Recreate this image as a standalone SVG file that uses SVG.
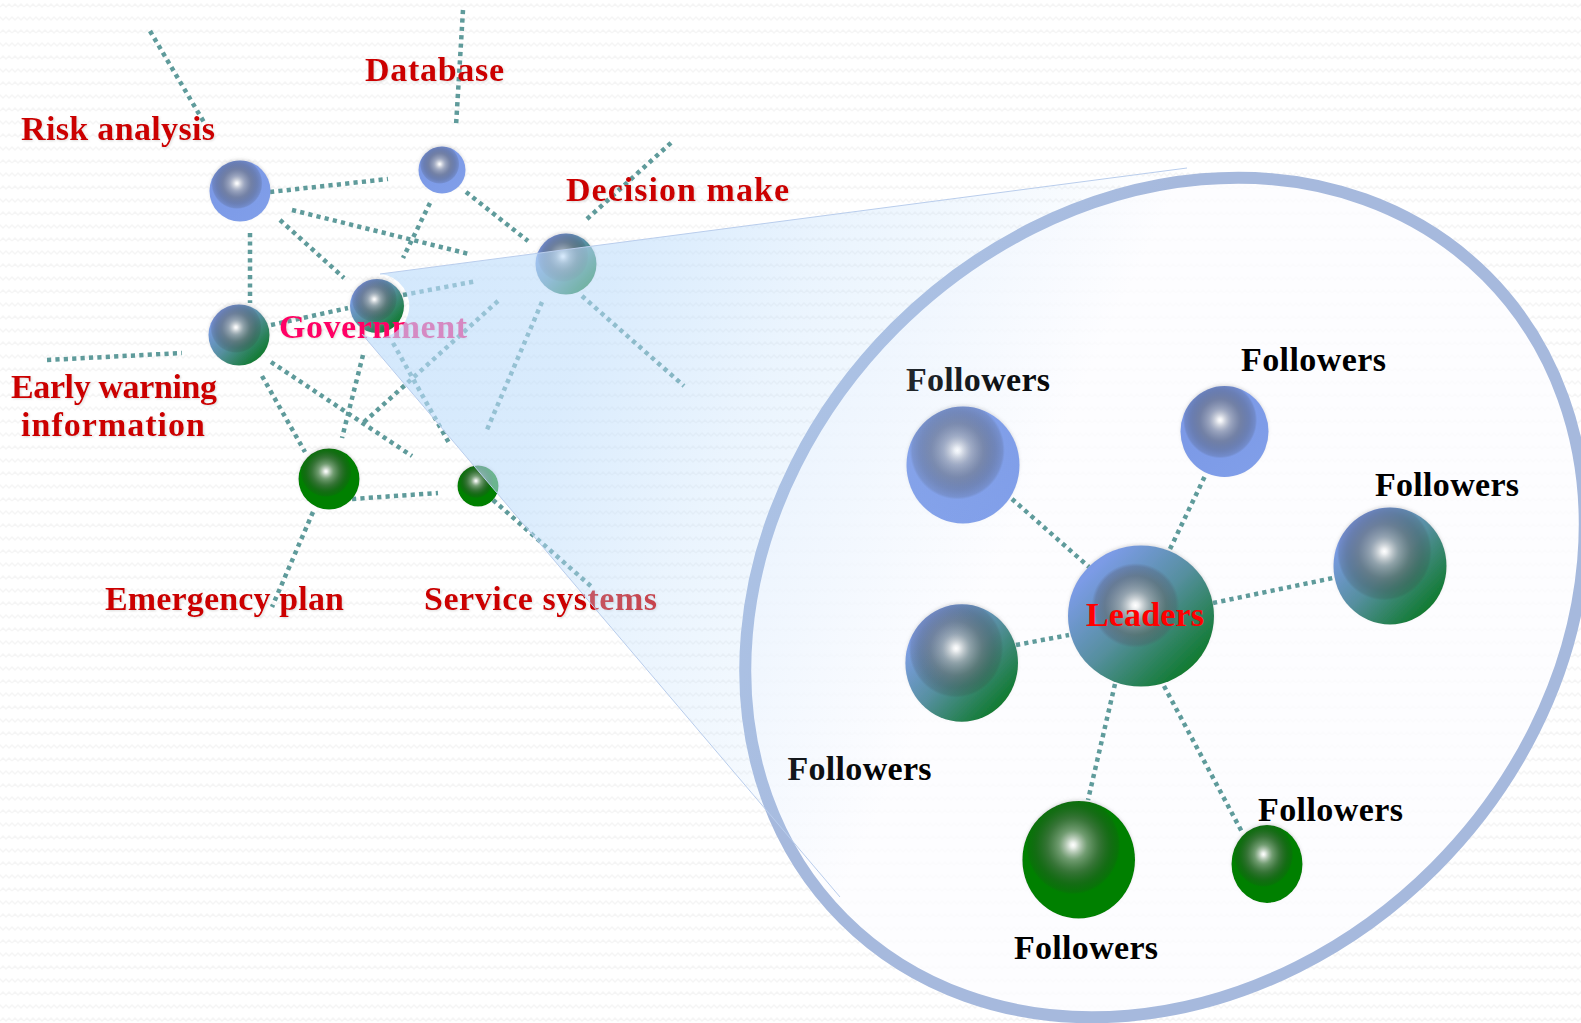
<svg xmlns="http://www.w3.org/2000/svg" width="1581" height="1023" viewBox="0 0 1581 1023">
<style>
.blue{fill:url(#gBlue)}
.green{fill:#008000}
.mix{fill:url(#gMix)}
.shine{fill:url(#gShine)}
.ball{filter:url(#fBall)}
.con{fill:none;stroke:#5f9b9b;stroke-width:4.5;stroke-dasharray:4.2 4.2}
text{font-family:"Liberation Serif","Times New Roman",serif;font-weight:bold;font-size:34px}
.lab{fill:#cc0000;filter:url(#fText)}
.fol{fill:#000}
.edge{fill:none;stroke:#b9cdec;stroke-width:1}
</style>
<defs>
<pattern id="pBg" width="12" height="26" patternUnits="userSpaceOnUse">
<path d="M0 7L3 4L6 7L9 4L12 7M-3 20L0 17L3 20L6 17L9 20L12 17L15 20" fill="none" stroke="#f5f5f5" stroke-width="1.5"/>
</pattern>
<linearGradient id="gBlue" x1="0.2" y1="0.1" x2="0.85" y2="0.9">
<stop offset="0" stop-color="#7a98e6"/><stop offset="1" stop-color="#809ee9"/>
</linearGradient>
<linearGradient id="gMix" x1="0.14" y1="0.14" x2="0.86" y2="0.86">
<stop offset="0.05" stop-color="#7b9be6"/><stop offset="0.5" stop-color="#568f9f"/><stop offset="1" stop-color="#0f7a2e"/>
</linearGradient>
<radialGradient id="gShine" cx="0.45" cy="0.375" r="0.42">
<stop offset="0" stop-color="#fff" stop-opacity="1"/>
<stop offset="0.06" stop-color="#f5f5f5" stop-opacity="0.95"/>
<stop offset="0.3" stop-color="#aaa" stop-opacity="0.66"/>
<stop offset="0.55" stop-color="#6a6a6a" stop-opacity="0.52"/>
<stop offset="0.8" stop-color="#404040" stop-opacity="0.3"/>
<stop offset="0.95" stop-color="#333" stop-opacity="0.16"/>
<stop offset="1" stop-color="#333" stop-opacity="0"/>
</radialGradient>
<radialGradient id="gShineL" cx="0.462" cy="0.425" r="0.3">
<stop offset="0" stop-color="#fff" stop-opacity="1"/>
<stop offset="0.08" stop-color="#f5f5f5" stop-opacity="0.95"/>
<stop offset="0.35" stop-color="#aaa" stop-opacity="0.68"/>
<stop offset="0.7" stop-color="#606060" stop-opacity="0.5"/>
<stop offset="0.92" stop-color="#505060" stop-opacity="0.3"/>
<stop offset="1" stop-color="#505060" stop-opacity="0"/>
</radialGradient>
<linearGradient id="gBeam" gradientUnits="userSpaceOnUse" x1="380" y1="300" x2="987" y2="589">
<stop offset="0" stop-color="#bcdcfb" stop-opacity="0.65"/>
<stop offset="0.3" stop-color="#bcdcfb" stop-opacity="0.56"/>
<stop offset="0.56" stop-color="#bcdcfb" stop-opacity="0.31"/>
<stop offset="0.756" stop-color="#bcdcfb" stop-opacity="0.18"/>
<stop offset="0.92" stop-color="#bcdcfb" stop-opacity="0.06"/>
<stop offset="1" stop-color="#bcdcfb" stop-opacity="0"/>
</linearGradient>
<filter id="fBall" x="-20%" y="-20%" width="140%" height="140%">
<feDropShadow dx="0" dy="-1.5" stdDeviation="1.5" flood-color="#888" flood-opacity="0.25"/>
</filter>
<filter id="fText" x="-5%" y="-15%" width="110%" height="130%">
<feDropShadow dx="1" dy="1" stdDeviation="0.8" flood-color="#888" flood-opacity="0.3"/>
</filter>
</defs>
<rect id="background" width="1581" height="1023" fill="#fff"/>
<rect width="1581" height="1023" fill="url(#pBg)"/>
<ellipse id="zoom-ring" cx="1165" cy="597.5" rx="454.6" ry="381.7" transform="rotate(-45 1165 597.5)" fill="#fcfdff" fill-opacity="0.8" stroke="#a6b9dd" stroke-width="12"/>
<g id="connectors" class="con">
<path d="M150 31L205 124"/>
<path d="M463 10L456 126"/>
<path d="M270 192L388 179"/>
<path d="M292 210L469 254"/>
<path d="M280 220L344 278"/>
<path d="M250 233L250 303"/>
<path d="M430 203L403 258"/>
<path d="M466 192L528 241"/>
<path d="M587 219L673 141"/>
<path d="M403 295L477 281"/>
<path d="M271 325L348 308"/>
<path d="M582 296L684 386"/>
<path d="M542 302L486 432"/>
<path d="M498 301L363 423"/>
<path d="M393 343L449 443"/>
<path d="M363 355L342 438"/>
<path d="M271 362L412 456"/>
<path d="M262 376L305 452"/>
<path d="M352 499L438 493"/>
<path d="M313 512L272 607"/>
<path d="M493 500L593 588"/>
<path d="M47 360L182 353"/>
<path d="M1012 499L1089 567"/>
<path d="M1170 549L1205 476"/>
<path d="M1213 603L1333 578"/>
<path d="M1016 645L1069 635"/>
<path d="M1115 684L1088 800"/>
<path d="M1164 686L1242 832"/>
</g>
<g id="risk-analysis">
<circle class="blue ball" cx="240" cy="191" r="30.5"/><circle class="shine" cx="240" cy="191" r="30.5"/>
<text class="lab" x="21" y="140" textLength="194">Risk analysis</text>
</g>
<g id="database">
<circle class="blue ball" cx="442" cy="170" r="23.5"/><circle class="shine" cx="442" cy="170" r="23.5"/>
<text class="lab" x="365" y="81" textLength="139">Database</text>
</g>
<g id="decision-make">
<circle class="mix ball" cx="566" cy="264" r="30.5"/><circle class="shine" cx="566" cy="264" r="30.5"/>
<text class="lab" x="566" y="201" textLength="223">Decision make</text>
</g>
<g id="early-warning">
<circle class="mix ball" cx="239" cy="335" r="30.5"/><circle class="shine" cx="239" cy="335" r="30.5"/>
<text class="lab" x="11" y="398" textLength="206">Early warning</text>
<text class="lab" x="21" y="436" textLength="184">information</text>
</g>
<g id="emergency-plan">
<circle class="green ball" cx="329" cy="479" r="30.5"/><circle class="shine" cx="329" cy="479" r="30.5"/>
<text class="lab" x="105" y="610" textLength="239">Emergency plan</text>
</g>
<g id="service-systems">
<circle class="green ball" cx="478" cy="486" r="20.5"/><circle class="shine" cx="478" cy="486" r="20.5"/>
<text class="lab" x="424" y="610" textLength="233">Service systems</text>
</g>
<g id="government">
<circle class="mix ball" cx="377" cy="306" r="27"/><circle class="shine" cx="377" cy="306" r="27"/>
<text x="279" y="338" textLength="188" fill="#ff0066" style="filter:url(#fText)">Government</text>
</g>
<g id="leaders">
<ellipse class="mix ball" cx="1141" cy="616" rx="73" ry="70.5"/><ellipse fill="url(#gShineL)" cx="1141" cy="616" rx="73" ry="70.5"/>
<text x="1086" y="626" textLength="118" fill="#ff0000">Leaders</text>
</g>
<g id="follower-1">
<ellipse class="blue ball" cx="963" cy="465" rx="56.5" ry="58.5"/><ellipse class="shine" cx="963" cy="465" rx="56.5" ry="58.5"/>
<text class="fol" x="906" y="391" textLength="144">Followers</text>
</g>
<g id="follower-2">
<ellipse class="blue ball" cx="1224.500" cy="431.500" rx="44" ry="45.500"/><ellipse class="shine" cx="1224.500" cy="431.500" rx="44" ry="45.500"/>
<text class="fol" x="1241" y="371" textLength="145">Followers</text>
</g>
<g id="follower-3">
<ellipse class="mix ball" cx="1390" cy="566" rx="56.500" ry="58.500"/><ellipse class="shine" cx="1390" cy="566" rx="56.500" ry="58.500"/>
<text class="fol" x="1375" y="496" textLength="144">Followers</text>
</g>
<g id="follower-4">
<ellipse class="mix ball" cx="961.700" cy="663" rx="56.300" ry="58.700"/><ellipse class="shine" cx="961.700" cy="663" rx="56.300" ry="58.700"/>
<text class="fol" x="787.500" y="780" textLength="144">Followers</text>
</g>
<g id="follower-5">
<ellipse class="green ball" cx="1078.700" cy="859.700" rx="56.300" ry="58.700"/><ellipse class="shine" cx="1078.700" cy="859.700" rx="56.300" ry="58.700"/>
<text class="fol" x="1014" y="959" textLength="144">Followers</text>
</g>
<g id="follower-6">
<ellipse class="green ball" cx="1267" cy="864" rx="35.500" ry="39"/><ellipse class="shine" cx="1267" cy="864" rx="35.500" ry="39"/>
<text class="fol" x="1258" y="821" textLength="145">Followers</text>
</g>
<g id="zoom-beam">
<path d="M380 274L1187 168L840 897L362 334A32 32 0 1 0 380 274Z" fill="url(#gBeam)"/>
<path class="edge" d="M380 274L1187 168"/>
<path class="edge" d="M362 334L840 897"/>
</g>
</svg>
